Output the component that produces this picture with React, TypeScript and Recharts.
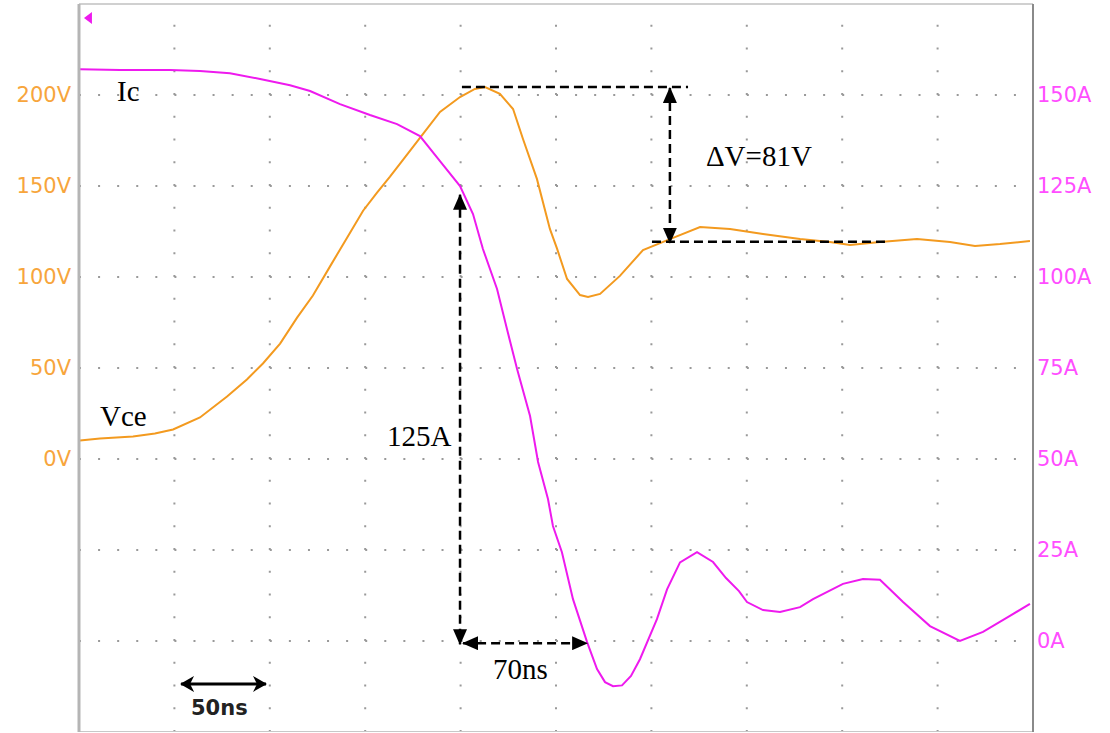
import React from "react";
import {
  LineChart,
  Line,
  XAxis,
  YAxis,
  CartesianGrid,
  ReferenceLine,
  ReferenceDot,
} from "recharts";

// scope grid: 10 x 50ns, 8 vertical divisions
const timeTicks = [0, 50, 100, 150, 200, 250, 300, 350, 400, 450, 500];
const voltTicks = [-150, -100, -50, 0, 50, 100, 150, 200, 250];
const ampTicks = [-25, 0, 25, 50, 75, 100, 125, 150, 175];

// Vce trace (ns, V)
const vceTime = [
  0.5, 11, 28.3, 39.8, 49.3, 63.4, 77.6, 88, 96.4, 105.4, 114.3, 122.6, 131.5,
  140.5, 148.9, 156.2, 163, 169.8, 178.7, 189.2, 199.7, 207.5, 212.8, 220.6,
  227.5, 232.7, 240, 246.8, 250.5, 255.8, 262.6, 266.8, 273.1, 283.5, 295.6,
  309.7, 325.5, 341.2, 358.5, 377.9, 393.6, 404.1, 419.8, 439.2, 456.5, 469.6,
  482.7, 498.4,
];
const vceVolts = [
  10.2, 11.3, 12.4, 14, 16.2, 22.8, 34.3, 43.7, 52.5, 63.4, 77.7, 89.8, 105.7,
  121.6, 136.4, 146.3, 155.1, 164.4, 176.5, 190.7, 198.9, 203.3, 204.4, 200.6,
  192.3, 175.8, 153.9, 126.4, 115.7, 98.9, 90.1, 89, 90.7, 100.6, 114.8, 120.8,
  127.5, 126.4, 123.6, 120.9, 119.2, 117.6, 119.2, 120.9, 119.2, 117, 118.1,
  119.8,
];

// Ic trace (ns, A)
const icTime = [
  0.5, 21.5, 47.7, 63.4, 79.1, 94.9, 110.6, 121.1, 136.8, 152.5, 166.7, 178.7,
  189.2, 199.7, 206.5, 211.7, 219.1, 224.3, 229.6, 236.4, 240.6, 245.8, 248.4,
  253.1, 258.9, 266.3, 271.5, 275.7, 279.9, 284.6, 289.3, 294, 302.9, 308.2,
  315, 323.9, 332.3, 339.1, 345.9, 350.1, 358.5, 367.4, 377.9, 384.7, 400.4,
  410.9, 419.8, 431.9, 446, 461.7, 473.8, 487.9, 498.4,
];
const icAmps = [
  157.1, 156.9, 156.9, 156.6, 156, 154.4, 152.7, 151.1, 147.5, 144.5, 142,
  138.7, 131.8, 125, 117.3, 107.7, 96.7, 85.7, 74.7, 61.8, 49.2, 39, 31.6, 24.4,
  11.5, -0.3, -7.7, -11.3, -12.4, -12.2, -9.6, -5, 6, 14.2, 21.6, 24.4, 21.7,
  17.3, 13.7, 10.7, 8.5, 8, 9.3, 11.5, 15.7, 17, 16.8, 10.7, 4.1, 0, 2.5, 6.9,
  10.2,
];

const vceData = vceTime.map((t, i) => ({ t, v: vceVolts[i] }));
const icData = icTime.map((t, i) => ({ t, a: icAmps[i] }));

const ORANGE = "#f39a1f";
const MAGENTA = "#ee1aee";
const serif = { fontFamily: "Liberation Serif", fontSize: 29, fill: "#000" };

const arrowLine =
  (start: boolean, end: boolean, dashed: boolean, marker = "head") =>
  (p: any) =>
    (
      <line
        x1={p.x1}
        y1={p.y1}
        x2={p.x2}
        y2={p.y2}
        stroke="#000"
        strokeWidth={dashed ? 2.5 : 3}
        strokeDasharray={dashed ? "9 5" : undefined}
        markerStart={start ? `url(#${marker})` : undefined}
        markerEnd={end ? `url(#${marker})` : undefined}
      />
    );

const note =
  (text: string, style: any = serif) =>
  (p: any) =>
    (
      <text x={p.cx} y={p.cy} textAnchor="start" {...style}>
        {text}
      </text>
    );

export default function App() {
  return (
    <div style={{ position: "absolute", left: 0, top: 0, background: "#fff" }}>
      <LineChart
        width={1110}
        height={732}
        margin={{ top: 4, right: 0, bottom: 0, left: 0 }}
      >
        <defs>
          <marker
            id="head"
            viewBox="0 0 16 14"
            refX="15"
            refY="7"
            markerWidth="16"
            markerHeight="14"
            markerUnits="userSpaceOnUse"
            orient="auto-start-reverse"
          >
            <path d="M0,0 L16,7 L0,14 z" fill="#000" />
          </marker>
          <marker
            id="chev"
            viewBox="0 0 14 16"
            refX="13"
            refY="8"
            markerWidth="14"
            markerHeight="16"
            markerUnits="userSpaceOnUse"
            orient="auto-start-reverse"
          >
            <path d="M0,0 L14,8 L0,16 L4,8 z" fill="#000" />
          </marker>
        </defs>
        <CartesianGrid
          horizontal
          vertical={false}
          yAxisId="v"
          stroke="#999"
          strokeWidth={2}
          strokeDasharray="2 17.08"
        />
        {timeTicks.slice(1, -1).map((t) => (
          <ReferenceLine
            key={t}
            yAxisId="v"
            x={t}
            stroke="#999"
            strokeWidth={2}
            strokeDasharray="2 20.75"
          />
        ))}
        <XAxis
          dataKey="t"
          type="number"
          domain={[0, 500]}
          ticks={timeTicks}
          allowDataOverflow
          height={0}
          tick={false}
          tickLine={false}
          axisLine={false}
        />
        <YAxis
          yAxisId="v"
          orientation="left"
          width={79}
          domain={[-150, 250]}
          ticks={voltTicks}
          allowDataOverflow
          interval={0}
          tickLine={false}
          axisLine={{ stroke: "#b5b5b5", strokeWidth: 3 }}
          tickFormatter={(v: number) => (v >= 0 && v <= 200 ? `${v}V` : "")}
          tick={{ fill: "#f7a53c", fontSize: 21, fontFamily: "DejaVu Sans" }}
        />
        <YAxis
          yAxisId="a"
          orientation="right"
          width={77}
          domain={[-25, 175]}
          ticks={ampTicks}
          allowDataOverflow
          interval={0}
          tickLine={false}
          tickSize={2}
          axisLine={{ stroke: "#8a8a8a", strokeWidth: 2 }}
          tickFormatter={(v: number) => (v >= 0 && v <= 150 ? `${v}A` : "")}
          tick={{ fill: "#ff4dff", fontSize: 21, fontFamily: "DejaVu Sans" }}
        />
        <ReferenceLine yAxisId="v" y={250} stroke="#d0d0d0" strokeWidth={2} />
        <ReferenceLine yAxisId="v" y={-150} stroke="#c8c8c8" strokeWidth={2} />

        <Line
          yAxisId="v"
          data={vceData}
          dataKey="v"
          type="linear"
          stroke={ORANGE}
          strokeWidth={2}
          dot={false}
          isAnimationActive={false}
        />
        <Line
          yAxisId="a"
          data={icData}
          dataKey="a"
          type="linear"
          stroke={MAGENTA}
          strokeWidth={2}
          dot={false}
          isAnimationActive={false}
        />

        {/* trigger marker */}
        <ReferenceDot
          yAxisId="v"
          x={4.7}
          y={242.3}
          shape={(p: any) => (
            <path
              d={`M${p.cx - 4},${p.cy} L${p.cx + 4},${p.cy - 6} L${p.cx + 4},${p.cy + 6} z`}
              fill={MAGENTA}
            />
          )}
        />

        {/* overshoot measurement */}
        <ReferenceLine
          yAxisId="v"
          segment={[
            { x: 200.7, y: 204.4 },
            { x: 319.2, y: 204.4 },
          ]}
          shape={arrowLine(false, false, true)}
        />
        <ReferenceLine
          yAxisId="v"
          segment={[
            { x: 300.3, y: 119.4 },
            { x: 423.5, y: 119.4 },
          ]}
          shape={arrowLine(false, false, true)}
        />
        <ReferenceLine
          yAxisId="v"
          segment={[
            { x: 309.7, y: 203.9 },
            { x: 309.7, y: 118.8 },
          ]}
          shape={arrowLine(true, true, true)}
        />
        {/* current fall measurement */}
        <ReferenceLine
          yAxisId="a"
          segment={[
            { x: 199.7, y: 122.6 },
            { x: 199.7, y: -0.9 },
          ]}
          shape={arrowLine(true, true, true)}
        />
        <ReferenceLine
          yAxisId="a"
          segment={[
            { x: 201.3, y: -0.6 },
            { x: 266.3, y: -0.6 },
          ]}
          shape={arrowLine(true, true, true)}
        />
        {/* time scale marker */}
        <ReferenceLine
          yAxisId="a"
          segment={[
            { x: 53.5, y: -11.8 },
            { x: 98, y: -11.8 },
          ]}
          shape={arrowLine(true, true, false, "chev")}
        />

        <ReferenceDot yAxisId="v" x={19.9} y={196.7} shape={note("Ic")} />
        <ReferenceDot yAxisId="v" x={11} y={18} shape={note("Vce")} />
        <ReferenceDot yAxisId="a" x={161.4} y={53.6} shape={note("125A")} />
        <ReferenceDot yAxisId="v" x={328.6} y={160.8} shape={note("ΔV=81V")} />
        <ReferenceDot yAxisId="a" x={217} y={-10.4} shape={note("70ns")} />
        <ReferenceDot
          yAxisId="a"
          x={58.7}
          y={-20.2}
          shape={note("50ns", {
            fontFamily: "DejaVu Sans",
            fontSize: 21,
            fontWeight: "bold",
            fill: "#222",
          })}
        />
      </LineChart>
    </div>
  );
}
